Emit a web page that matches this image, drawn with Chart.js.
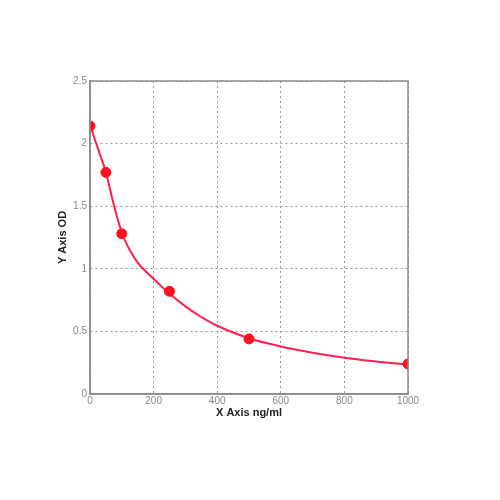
<!DOCTYPE html>
<html>
<head>
<meta charset="utf-8">
<script src="https://cdn.jsdelivr.net/npm/chart.js@4"></script>
<style>
  html, body { margin: 0; padding: 0; background: #fff; }
  #wrap { width: 500px; height: 500px; }
</style>
</head>
<body>
<div id="wrap"><canvas id="chart" width="500" height="500"></canvas></div>
<script>
// standards (ng/ml) and measured OD
const stdConc = [0, 50, 100, 250, 500, 1000];
const stdOD = [2.14, 1.77, 1.28, 0.82, 0.44, 0.24];

// fitted curve
const curveConc = [0, 25, 50, 75, 100, 125, 150, 175, 200, 250, 300, 350, 400, 500, 600, 700, 800, 900, 1000];
const curveOD = [2.15, 1.96, 1.77, 1.51, 1.29, 1.15, 1.05, 0.98, 0.92, 0.80, 0.70, 0.615, 0.545, 0.445, 0.38, 0.33, 0.29, 0.26, 0.235];

const xTicks = [0, 200, 400, 600, 800, 1000];
const yTicks = [0, 0.5, 1, 1.5, 2, 2.5];

Chart.defaults.font.family = "'Liberation Sans', Arial, sans-serif";
Chart.defaults.color = "#777";

// box round the plot area (chart.js only draws the axis side)
const frame = {
  id: 'frame',
  afterDraw(chart) {
    const { ctx, chartArea: a } = chart;
    ctx.save();
    ctx.strokeStyle = '#8a8a8a';
    ctx.lineWidth = 1.5;
    ctx.strokeRect(a.left, a.top, a.right - a.left, a.bottom - a.top);
    ctx.restore();
  }
};

const gridStyle = { color: '#9a9a9a', drawTicks: false, lineWidth: 1 };
const borderStyle = { color: '#8a8a8a', width: 1.5, dash: [2, 3] };

let chartId = document.getElementById('chart');
new Chart(chartId, {
  type: 'scatter',
  data: {
    datasets: [
      {
        label: 'curve',
        data: curveConc.map((c, i) => ({ x: c, y: curveOD[i] })),
        showLine: true,
        borderColor: '#ff2050',
        borderWidth: 2,
        pointRadius: 0,
        tension: 0.4,
        order: 2
      },
      {
        label: 'standards',
        data: stdConc.map((c, i) => ({ x: c, y: stdOD[i] })),
        backgroundColor: '#ff1020',
        borderColor: '#ff1020',
        pointRadius: 5,
        order: 1
      }
    ]
  },
  options: {
    responsive: false,
    animation: false,
    layout: { padding: { left: 56, right: 92, top: 81, bottom: 80 } },
    plugins: { legend: { display: false }, tooltip: { enabled: false } },
    scales: {
      x: {
        type: 'linear',
        min: 0, max: 1000,
        afterBuildTicks: s => { s.ticks = xTicks.map(v => ({ value: v })); },
        afterFit: s => { s.height = 26; },
        grid: gridStyle,
        border: borderStyle,
        ticks: { padding: 1, font: { size: 10 }, color: '#888', callback: v => String(v) },
        title: { display: true, text: 'X Axis ng/ml', color: '#222', font: { size: 11, weight: 'bold' }, padding: { top: 0, bottom: 0 } }
      },
      y: {
        type: 'linear',
        min: 0, max: 2.5,
        afterBuildTicks: s => { s.ticks = yTicks.map(v => ({ value: v })); },
        afterFit: s => { s.width = 34; },
        grid: gridStyle,
        border: borderStyle,
        ticks: { padding: 3, font: { size: 10 }, color: '#888', callback: v => String(v) },
        title: { display: true, text: 'Y Axis OD', color: '#222', font: { size: 11, weight: 'bold' }, padding: { top: 0, bottom: 4 } }
      }
    }
  },
  plugins: [frame]
});
</script>
</body>
</html>
